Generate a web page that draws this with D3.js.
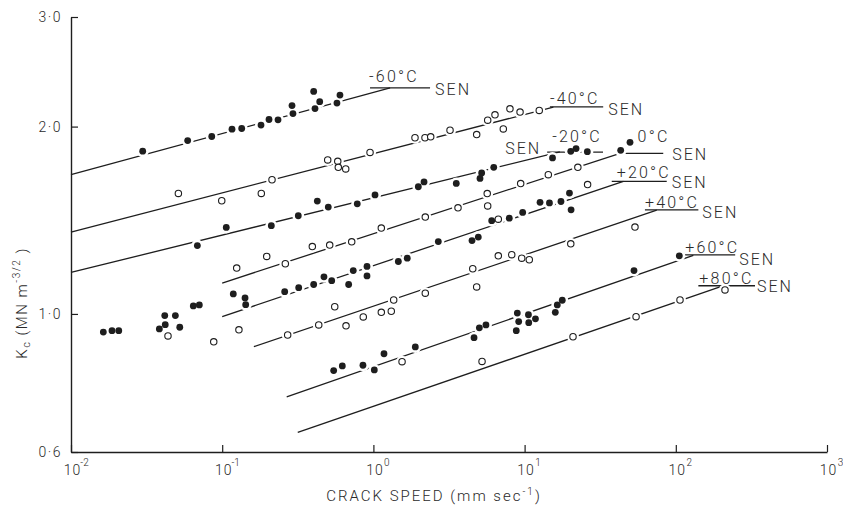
<!DOCTYPE html>
<html><head><meta charset="utf-8">
<script src="https://cdn.jsdelivr.net/npm/d3@7"></script>
<style>
body{margin:0;background:#fff}
svg{display:block}
text{font-family:Roboto,"DejaVu Sans",sans-serif;font-weight:300;fill:#2a2a2a}
</style>
</head><body>
<svg id="c" width="843" height="507"></svg>
<script>
// ---------- data ----------
const temps   = ["-60°C","-40°C","-20°C","0°C","+20°C","+40°C","+60°C","+80°C"];
const filled  = [true,false,true,false,true,false,true,false];
const speedExps = [-2,-1,0,1,2,3];
const kTicks    = [0.6,1.0,2.0,3.0];
const kLabels   = ["0·6","1·0","2·0","3·0"];

// points [crack speed mm/s, Kc]
const pM60 = [[0.0298,1.826],[0.0591,1.899],[0.0853,1.928],[0.1161,1.981],[0.1346,1.986],[0.1806,2.011],[0.204,2.053],[0.234,2.051],[0.2896,2.162],[0.2938,2.099],[0.4027,2.278],[0.411,2.138],[0.4415,2.193],[0.574,2.182],[0.601,2.247]];
const pM40 = [[0.0513,1.562],[0.0993,1.520],[0.1814,1.562],[0.2135,1.643],[0.4986,1.768],[0.581,1.759],[0.586,1.720],[0.656,1.710],[0.950,1.818],[1.884,1.919],[2.194,1.919],[2.393,1.926],[3.212,1.973],[4.82,1.942],[5.70,2.048],[6.37,2.089],[7.23,1.983],[8.00,2.136],[9.33,2.110],[12.5,2.123]];
const pM20 = [[0.0685,1.288],[0.1064,1.377],[0.2113,1.386],[0.3186,1.438],[0.4256,1.518],[0.503,1.485],[0.782,1.503],[1.025,1.553],[1.982,1.601],[2.162,1.630],[3.533,1.621],[5.07,1.651],[5.20,1.685],[6.25,1.720],[15.3,1.781],[20.2,1.825],[21.9,1.844],[26.0,1.823],[43.2,1.832],[49.8,1.887]];
const p0   = [[0.1247,1.185],[0.197,1.237],[0.2615,1.204],[0.3945,1.283],[0.514,1.290],[0.7186,1.306],[1.128,1.374],[2.204,1.431],[3.627,1.481],[5.66,1.561],[5.70,1.491],[9.42,1.620],[14.35,1.674],[22.5,1.720]];
const pP20 = [[0.1184,1.077],[0.1416,1.061],[0.143,1.035],[0.259,1.086],[0.3206,1.102],[0.4027,1.115],[0.471,1.147],[0.530,1.131],[0.686,1.115],[0.736,1.174],[0.907,1.192],[0.907,1.151],[1.462,1.214],[1.675,1.229],[2.687,1.307],[4.49,1.312],[4.94,1.329],[6.06,1.412],[7.92,1.425],[9.71,1.456],[12.65,1.511],[14.6,1.508],[17.4,1.516],[19.8,1.564],[20.3,1.470]];
const pP40 = [[0.0879,0.902],[0.129,0.943],[0.271,0.925],[0.435,0.960],[0.555,1.027],[0.659,0.957],[0.857,0.989],[1.128,1.006],[1.313,1.010],[1.362,1.053],[2.204,1.080],[4.54,1.182],[4.82,1.105],[6.70,1.240],[8.22,1.245],[9.57,1.229],[10.74,1.222],[20.2,1.296],[53.7,1.379]];
const pP60 = [[0.546,0.811],[0.623,0.825],[0.853,0.827],[1.014,0.813],[1.175,0.863],[1.893,0.885],[4.63,0.916],[5.02,0.950],[5.55,0.960],[8.95,1.003],[9.14,0.972],[8.81,0.940],[10.6,0.997],[10.65,0.968],[11.8,0.982],[15.96,1.006],[16.45,1.034],[17.75,1.052],[52.9,1.174],[105.5,1.240]];
const pP80 = [[5.23,0.839],[20.9,0.919],[54.6,0.990],[106.6,1.053],[211.5,1.093]];
const lowFilled = [[0.01636,0.935],[0.01867,0.940],[0.0207,0.940],[0.0384,0.946],[0.0420,0.961],[0.0417,0.994],[0.0490,0.994],[0.0524,0.952],[0.0644,1.030],[0.0706,1.034]];
const strayOpen = [[6.70,1.420],[26.1,1.614],[1.547,0.838],[0.0438,0.922]];

// fitted lines [v0,K0,v1,K1] and SEN reference segments [v0,v1,K]
const fitLines = [[0.01,1.674,1.29,2.308],[0.01,1.354,15.5,2.150],[0.01,1.166,17.1,1.822],[0.1,1.121,42.8,1.812],[0.1,0.990,45,1.633],[0.162,0.886,74.8,1.468],[0.267,0.736,130.6,1.242],[0.316,0.645,196,1.105]];
const senSegs  = [[0.95,2.37,2.308],[14.7,33.1,2.152],[14.1,33.0,1.820],[40.6,82.6,1.811],[37.7,87.1,1.633],[62.5,141,1.470],[112,247,1.244],[141,334,1.110]];
const seriesPts = [pM60,pM40,pM20,p0,pP20,pP40,pP60,pP80];

// ---------- layout (pixel offsets of annotation text) ----------
const labelOff = [[-1,-6],[0,-3],[5,-10],[21,-11],[5,-3],[0,-2],[2,-2],[1,-2]];
const senOff   = [[5,7],[5,8],[-6,2],[9,7],[5,7],[4,8],[4,10],[2,6]];

// ---------- drawing ----------
const svg = d3.select("#c");
const x = d3.scaleLog().domain([0.01,1000]).range([71,827]);
const y = d3.scaleLog().domain([0.6,3.0]).range([452,17]);
const ink = "#1e1e1e";
const FF = "Roboto,'DejaVu Sans',sans-serif";

// axes
const gx = svg.append("g").attr("transform","translate(0,452)")
  .call(d3.axisBottom(x).tickValues(speedExps.map(e=>Math.pow(10,e))).tickSizeInner(-7).tickSizeOuter(0).tickFormat(()=>""));
const gy = svg.append("g").attr("transform","translate(71,0)")
  .call(d3.axisLeft(y).tickValues(kTicks).tickSizeInner(-7).tickSizeOuter(0).tickPadding(9)
        .tickFormat((d,i)=>kLabels[i]));
[gx,gy].forEach(g=>{
  g.select(".domain").attr("stroke",ink).attr("stroke-width",1.4);
  g.selectAll(".tick line").attr("stroke",ink).attr("stroke-width",1.2);
});
gy.selectAll(".tick text").attr("font-size",14).attr("letter-spacing",1.5)
  .attr("font-family",FF).attr("fill","#2a2a2a").attr("font-weight",300);

// x tick labels 10^n
gx.selectAll(".tick").each(function(d,i){
  const g = d3.select(this);
  g.append("text").attr("x",1).attr("y",23).attr("text-anchor","middle").attr("font-size",14)
    .attr("letter-spacing",1).attr("fill","#2a2a2a").attr("font-family",FF)
    .attr("font-weight",300).text("10");
  g.append("text").attr("x",13).attr("y",14).attr("font-size",10).attr("fill","#2a2a2a")
    .attr("font-family",FF).attr("font-weight",400)
    .text(speedExps[i]<0 ? "-"+Math.abs(speedExps[i]) : String(speedExps[i]));
});

// axis titles
const xt = svg.append("text").attr("x",434).attr("y",501).attr("text-anchor","middle")
  .attr("font-size",15).attr("letter-spacing",2);
xt.append("tspan").text("CRACK SPEED (mm sec");
xt.append("tspan").attr("font-size",10).attr("dy",-6).text("-1");
xt.append("tspan").attr("dy",6).text(")");

const yt = svg.append("text").attr("transform","translate(27,303) rotate(-90)").attr("text-anchor","middle")
  .attr("font-size",15).attr("letter-spacing",1.5);
yt.append("tspan").text("K");
yt.append("tspan").attr("font-size",11).attr("dy",3).text("c");
yt.append("tspan").attr("dy",-3).text(" (MN m");
yt.append("tspan").attr("font-size",10).attr("dy",-7).text("-3/2");
yt.append("tspan").attr("dy",7).text(" )");

// fit lines and SEN segments
const plot = svg.append("g");
fitLines.forEach(f=>{
  plot.append("line").attr("x1",x(f[0])).attr("y1",y(f[1])).attr("x2",x(f[2])).attr("y2",y(f[3]))
    .attr("stroke",ink).attr("stroke-width",1.3);
});
senSegs.forEach(s=>{
  plot.append("line").attr("x1",x(s[0])).attr("y1",y(s[2])).attr("x2",x(s[1])).attr("y2",y(s[2]))
    .attr("stroke",ink).attr("stroke-width",1.3);
});

// markers
let all = [];
seriesPts.forEach((pts,i)=>pts.forEach(p=>all.push({v:p[0],k:p[1],f:filled[i]})));
lowFilled.forEach(p=>all.push({v:p[0],k:p[1],f:true}));
strayOpen.forEach(p=>all.push({v:p[0],k:p[1],f:false}));

plot.selectAll("circle.halo").data(all).join("circle").attr("class","halo")
  .attr("cx",d=>x(d.v)).attr("cy",d=>y(d.k)).attr("r",6).attr("fill","#fff");
plot.selectAll("circle.mk").data(all).join("circle").attr("class","mk")
  .attr("cx",d=>x(d.v)).attr("cy",d=>y(d.k)).attr("r",d=>d.f?3.4:3.2)
  .attr("fill",d=>d.f?ink:"#fff").attr("stroke",ink).attr("stroke-width",d=>d.f?0:1.1);

// annotations
temps.forEach((t,i)=>{
  const s = senSegs[i];
  svg.append("text").attr("x",x(s[0])+labelOff[i][0]).attr("y",y(s[2])+labelOff[i][1])
    .attr("font-size",16).attr("letter-spacing",2.2).text(t);
  const sx = senOff[i][0] < 0 ? x(s[0])+senOff[i][0] : x(s[1])+senOff[i][0];
  svg.append("text").attr("x",sx).attr("y",y(s[2])+senOff[i][1])
    .attr("text-anchor",senOff[i][0] < 0 ? "end" : "start")
    .attr("font-size",16).attr("letter-spacing",2).text("SEN");
});
</script>
</body></html>
